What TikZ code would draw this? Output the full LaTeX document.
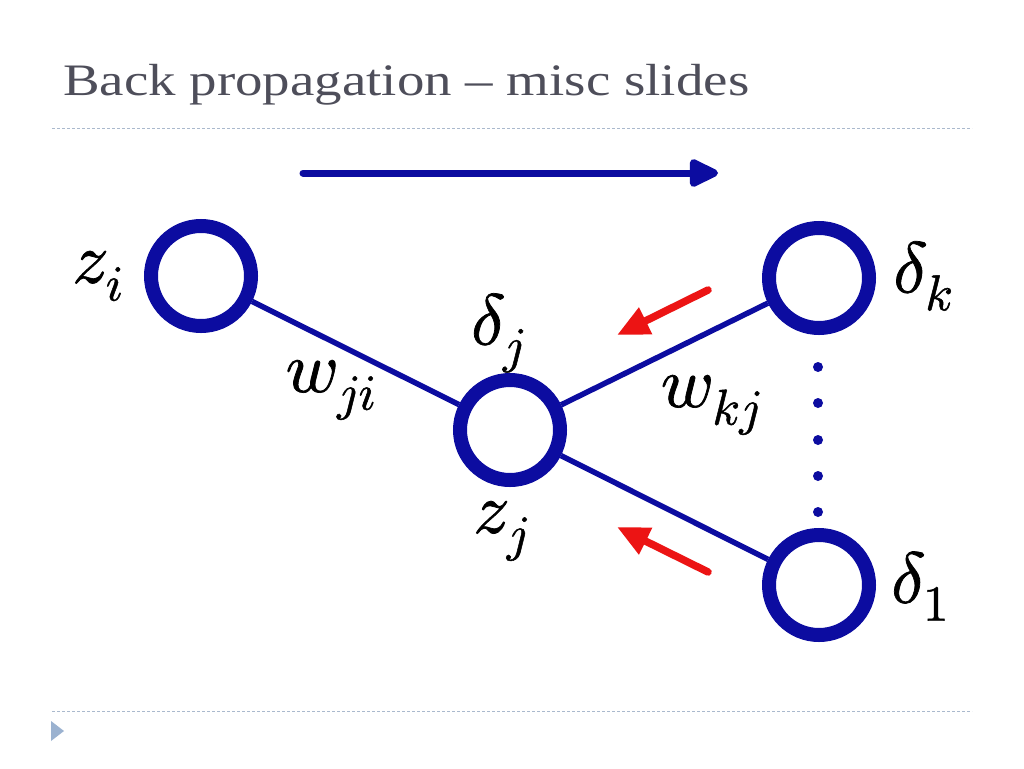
\documentclass[tikz,border=0pt]{standalone}
\usepackage{fontspec}
\setmainfont{Liberation Serif}
\usepackage{unicode-math}
\setmathfont{Latin Modern Math}[FakeBold=1]
\usetikzlibrary{arrows.meta}
\definecolor{netblue}{RGB}{12,12,160}
\definecolor{arrred}{RGB}{236,20,20}
\definecolor{titlegray}{RGB}{78,78,90}
\definecolor{rulegray}{RGB}{170,185,205}
\definecolor{bullet}{RGB}{155,178,208}
\tikzset{
  x=1pt,y=-1pt,
  neuron/.style={circle,draw=netblue,line width=14pt,minimum size=100pt,inner sep=0pt},
  link/.style={draw=netblue,line width=5.5pt},
  fwd/.style={draw=netblue,line width=7pt,line cap=round,-{Triangle[length=33pt,width=30pt,round]}},
  back/.style={draw=arrred,line width=7.5pt,line cap=round,-{Triangle[length=32pt,width=28pt]}},
  lbl/.style={inner sep=0pt,font=\fontsize{72}{76}\selectfont},
  rulestyle/.style={draw=rulegray,line width=1pt,dash pattern=on 3pt off 2pt},
  dotnode/.style={circle,fill=netblue,minimum size=10pt,inner sep=0pt}
}
\begin{document}
\begin{tikzpicture}
\useasboundingbox[fill=white] (0,0) rectangle (1024,768);
% title
\node[anchor=base west,inner sep=0pt,text=titlegray,font=\fontsize{45}{50}\selectfont] (title) at (63,95) {\scalebox{1.22}[1]{Back propagation – misc slides}};
\coordinate (r1a) at (52,128); \coordinate (r1b) at (972,128);
\draw[rulestyle] (r1a) -- (r1b);
\coordinate (r2a) at (52,711); \coordinate (r2b) at (972,711);
\draw[rulestyle] (r2a) -- (r2b);
\coordinate (t1) at (51,721); \coordinate (t2) at (64,731); \coordinate (t3) at (51,741);
\fill[bullet] (t1) -- (t2) -- (t3) -- cycle;
% forward arrow
\coordinate (fa) at (303,173); \coordinate (fb) at (718,173);
\draw[fwd] (fa) -- (fb);
% neurons
\node[neuron] (zi) at (201,276) {};
\node[neuron] (j) at (510,430) {};
\node[neuron] (k) at (819,278) {};
\node[neuron] (one) at (819,585) {};
\draw[link] (zi) -- (j);
\draw[link] (j) -- (k);
\draw[link] (j) -- (one);
% dots
\foreach \yy [count=\n] in {367,403,440,476,512} \node[dotnode] (d\n) at (818,\yy) {};
% back arrows
\coordinate (ba1) at (708,290); \coordinate (bb1) at (617,335);
\draw[back] (ba1) -- (bb1);
\coordinate (ba2) at (708,572); \coordinate (bb2) at (617,527);
\draw[back] (ba2) -- (bb2);
% labels
\node[lbl] (lzi) at (98,276) {$z_i$};
\node[lbl] (lwji) at (331,390) {$w_{ji}$};
\node[lbl] (ldj) at (498,333) {$\delta_j$};
\node[lbl] (lzj) at (501,531) {$z_j$};
\node[lbl] (lwkj) at (711,405) {$w_{kj}$};
\node[lbl] (ldk) at (923,276) {$\delta_k$};
\node[lbl] (ld1) at (920,586) {$\delta_1$};
\end{tikzpicture}
\end{document}
